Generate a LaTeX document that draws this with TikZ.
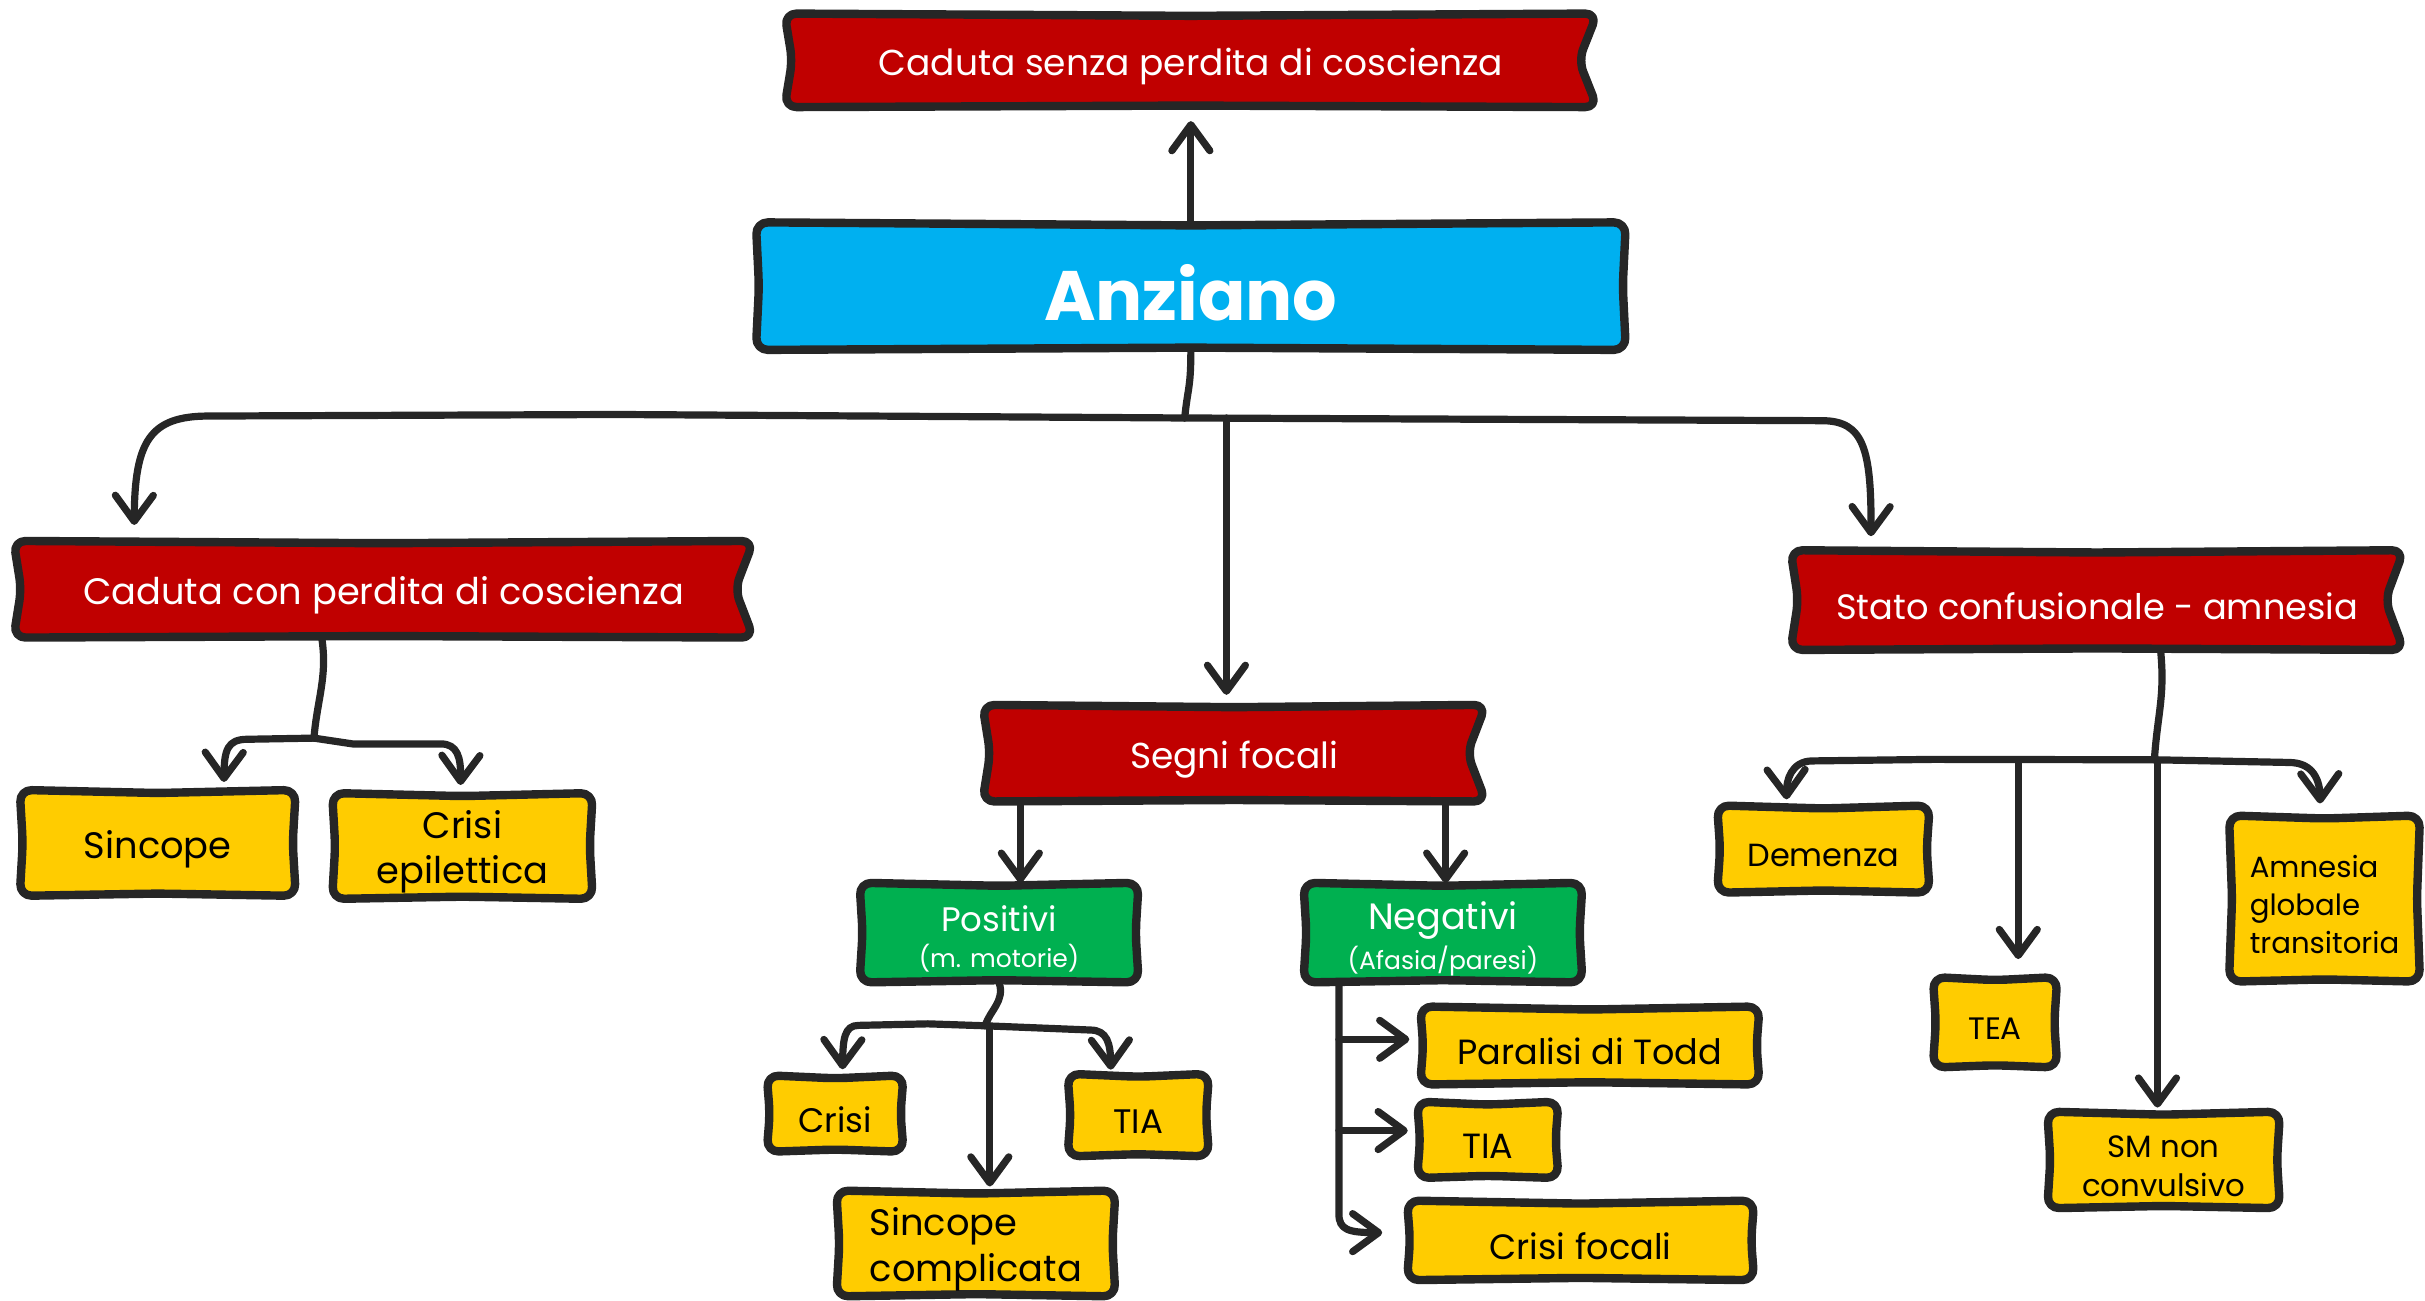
\documentclass[tikz,border=0pt]{standalone}
\usepackage{fontspec}
\setmainfont{Poppins}
\usetikzlibrary{calc,arrows.meta,backgrounds}
\definecolor{ink}{HTML}{262626}
\definecolor{cred}{HTML}{C00000}
\definecolor{cblue}{HTML}{00B0F0}
\definecolor{cgreen}{HTML}{00B050}
\definecolor{cyel}{HTML}{FFCC00}
\newcommand\fsz[2]{\fontsize{#1}{#2}\selectfont}
% shapes are drawn 4 units above the node box so that the text sits optically centred
\newcommand\skrect[2]{\path[boxline, fill=#2] ($(#1.north west)+(0,-4)$) -- ($(#1.north)+(0,-2)$) -- ($(#1.north east)+(0,-4)$) -- ($(#1.east)+(-2,-4)$) -- ($(#1.south east)+(0,-4)$) -- ($(#1.south)+(0,-5.5)$) -- ($(#1.south west)+(0,-4)$) -- ($(#1.west)+(2,-4)$) -- cycle;}
\newcommand\banner[2]{\path[boxline, fill=#2] ($(#1.north west)+(0,-4)$) -- ($(#1.north)+(0,-2.5)$) -- ($(#1.north east)+(0,-4)$) -- ($(#1.east)+(-12,-4)$) -- ($(#1.south east)+(0,-4)$) -- ($(#1.south)+(0,-5)$) -- ($(#1.south west)+(0,-4)$) -- ($(#1.west)+(5,-4)$) -- cycle;}
\tikzset{
  lbl/.style 2 args={minimum width=#1*0.7733pt, minimum height=#2*0.7733pt, inner sep=0pt, align=center},
  wtxt/.style={text=white},
  btxt/.style={text=black},
  boxline/.style={draw=ink, line width=4.2pt, line join=round, rounded corners=6pt},
  conn/.style={draw=ink, line width=3.6pt, line cap=round, line join=round},
  arr/.style={conn, -{Straight Barb[length=13pt,width=19pt,round]}},
}
\begin{document}
\begin{tikzpicture}[x=0.7733pt,y=-0.7733pt]
\useasboundingbox (0,0) rectangle (1568,841);
% nodes (centres are 4 units below the drawn box centres)
\node[lbl={525}{60}, wtxt, font=\fsz{18}{22}] (top) at (770,43) {Caduta senza perdita di coscienza};
\node[lbl={562}{82}, wtxt, font=\fsz{35}{42}\bfseries] (anz) at (770,189) {Anziano};
\node[lbl={478}{62}, wtxt, font=\fsz{18.4}{22}] (cpc) at (248,385) {Caduta con perdita di coscienza};
\node[lbl={325}{62}, wtxt, font=\fsz{18}{22}] (seg) at (798,491) {Segni focali};
\node[lbl={396}{64}, wtxt, font=\fsz{17.6}{22}] (sca) at (1356,392) {Stato confusionale - amnesia};
\node[lbl={178}{68}, btxt, font=\fsz{18.4}{22}] (sinc) at (102,549) {Sincope};
\node[lbl={168}{68}, btxt, font=\fsz{18.4}{22.4}] (crep) at (299,551) {Crisi\\epilettica};
\node[lbl={180}{64}, wtxt, font=\fsz{17}{20}] (pos) at (646,607) {Positivi\\[-2pt]{\fsz{12.5}{14}(m. motorie)}};
\node[lbl={180}{64}, wtxt, font=\fsz{18.3}{20}] (neg) at (933,607) {Negativi\\[0pt]{\fsz{12.5}{14}(Afasia/paresi)}};
\node[lbl={88}{49}, btxt, font=\fsz{17}{22}] (crisi) at (540,724) {Crisi};
\node[lbl={91}{53}, btxt, font=\fsz{17}{22}] (tia1) at (736,725) {TIA};
\node[lbl={180}{68}, btxt, font=\fsz{18.4}{23}, align=left] (sc) at (631,808) {Sincope\\complicata};
\node[lbl={219}{50}, btxt, font=\fsz{17.5}{22}] (ptodd) at (1028,680) {Paralisi di Todd};
\node[lbl={91}{49}, btxt, font=\fsz{17.5}{22}] (tia2) at (962,741) {TIA};
\node[lbl={224}{51}, btxt, font=\fsz{17.6}{22}] (cf) at (1022,806) {Crisi focali};
\node[lbl={137}{56}, btxt, font=\fsz{16}{19}] (dem) at (1179,553) {Demenza};
\node[lbl={80}{58}, btxt, font=\fsz{15.5}{19}] (tea) at (1290,665) {TEA};
\node[lbl={150}{62}, btxt, font=\fsz{15.4}{19.3}] (sm) at (1399,754) {SM non\\convulsivo};
\node[lbl={123}{107}, btxt, font=\fsz{14.6}{19}, align=left] (agt) at (1503,585) {Amnesia\\globale\\transitoria};
% shapes
\begin{pgfonlayer}{background}
\banner{top}{cred}
\skrect{anz}{cblue}
\banner{cpc}{cred}
\banner{seg}{cred}
\banner{sca}{cred}
\skrect{sinc}{cyel}
\skrect{crep}{cyel}
\skrect{pos}{cgreen}
\skrect{neg}{cgreen}
\skrect{crisi}{cyel}
\skrect{tia1}{cyel}
\skrect{sc}{cyel}
\skrect{ptodd}{cyel}
\skrect{tia2}{cyel}
\skrect{cf}{cyel}
\skrect{dem}{cyel}
\skrect{tea}{cyel}
\skrect{sm}{cyel}
\skrect{agt}{cyel}
\end{pgfonlayer}
% connectors
\draw[arr, shorten >=7pt] ($(anz.north)+(0,-4)$) -- ($(top.south)+(0,-4)$);
\coordinate (hub) at ($(anz.south)+(-4,40)$);
\draw[conn] ($(anz.south)+(0,-4)$) .. controls +(0,25) and +(2,-20) .. (hub);
\draw[arr, shorten >=8pt] (hub) -- (400,268) -- (135,269) .. controls (97,269) and (87,285) .. ($(cpc.north west)+(78,-4)$);
\draw[arr, shorten >=7pt] (hub) -- (1178,272) .. controls (1205,272) and (1210,290) .. ($(sca.north west)+(52,-4)$);
\coordinate (m) at ($(seg.north)+(-5,-4)$);
\draw[arr, shorten >=5pt] (m |- hub) -- (m);
% caduta con perdita
\coordinate (h2) at ($(cpc.south)+(-45,61)$);
\draw[conn] ($(cpc.south)+(-40,-4)$) .. controls +(4,25) and +(2,-25) .. (h2);
\draw[arr, shorten >=4pt] (h2) -- (160,478) .. controls (147,478) and (145,485) .. ($(sinc.north west)+(132,-4)$);
\draw[arr, shorten >=4pt] (h2) -- (228,481) -- (285,481) .. controls (296,481) and (298,490) .. ($(crep.north west)+(83,-4)$);
% segni focali
\coordinate (segb) at ($(seg.south)+(0,-4)$);
\coordinate (pin) at ($(pos.north west)+(104,-4)$);
\draw[arr] (segb -| pin) -- (pin);
\coordinate (nin) at ($(neg.north west)+(92,-4)$);
\draw[arr] (segb -| nin) -- (nin);
% positivi
\coordinate (h3) at ($(pos.south)+(-9,24)$);
\draw[conn] ($(pos.south)+(0,-4)$) .. controls +(4,12) and +(3,-10) .. (h3);
\draw[arr, shorten >=3pt] (h3) -- (600,662) -- (555,663) .. controls (546,663) and (545,672) .. ($(crisi.north west)+(49,-4)$);
\draw[arr, shorten >=2pt] (h3) -- (705,666) .. controls (716,666) and (718,675) .. ($(tia1.north west)+(28,-4)$);
\coordinate (sin) at ($(sc.north)+(9,-4)$);
\draw[arr, shorten >=2pt] (h3 -| sin) -- (sin);
% negativi
\coordinate (nv) at ($(neg.south west)+(23,-4)$);
\coordinate (pt) at ($(ptodd.west)+(-7,-8)$);
\coordinate (tt) at ($(tia2.west)+(-6,-10)$);
\coordinate (ct) at ($(cf.west)+(-16,-9)$);
\draw[arr] (nv) -- ($(nv |- ct)+(0,-12)$) .. controls ($(nv |- ct)+(0,-2)$) and ($(nv |- ct)+(6,0)$) .. (ct);
\draw[arr] (nv |- pt) -- (pt);
\draw[arr] (nv |- tt) -- (tt);
% stato confusionale
\coordinate (h4) at ($(sca.south)+(37,67)$);
\draw[conn] ($(sca.south)+(41,-4)$) .. controls +(3,30) and +(2,-30) .. (h4);
\draw[arr, shorten >=3pt] (h4) -- (1250,491) -- (1172,492) .. controls (1158,492) and (1155,505) .. ($(dem.north west)+(45,-4)$);
\draw[arr, shorten >=6pt] (h4) -- (1480,493) .. controls (1496,493) and (1500,505) .. ($(agt.north west)+(59,-4)$);
\coordinate (tin) at ($(tea.north)+(15,-4)$);
\draw[arr, shorten >=9pt] (tin |- h4) -- (tin);
\coordinate (smin) at ($(sm.north)+(-4,-4)$);
\draw[arr, shorten >=2pt] (smin |- h4) -- (smin);
\end{tikzpicture}
\end{document}
